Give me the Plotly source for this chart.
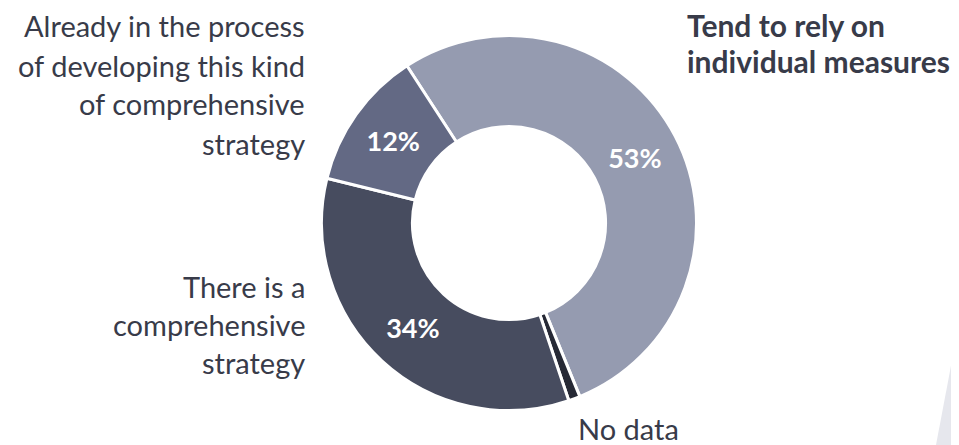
import plotly.graph_objects as go

# Data
labels = ["Tend to rely on individual measures", "No data",
          "There is a comprehensive strategy",
          "Already in the process of developing this kind of comprehensive strategy"]
values = [53, 1, 34, 12]
colors = ["#959BB0", "#262935", "#474C5F", "#636984"]
slice_text = ["53%", "", "34%", "12%"]

# page offset (browser default body margin) and figure size
OFF = 8
W, H = 959 - OFF, 445 - OFF
FONT = "Lato"
TXT = "#383B49"


def px(sx):
    return (sx - OFF) / W


def py(sy):
    return 1 - (sy - OFF) / H


fig = go.Figure()
fig.add_trace(go.Pie(
    labels=labels, values=values, sort=False, direction="clockwise",
    rotation=-33, hole=0.515,
    marker=dict(colors=colors, line=dict(color="white", width=3)),
    text=slice_text, textinfo="text", textposition="inside",
    insidetextorientation="horizontal",
    textfont=dict(family=FONT, size=27, color="white", weight="bold"),
    domain=dict(x=[px(321.5), px(696.5)], y=[py(410.5), py(35.5)]),
    showlegend=False, hoverinfo="label+percent",
))


def add_lines(lines, sx, sys, anchor, bold=False, size=29):
    for line, sy in zip(lines, sys):
        fig.add_annotation(
            text=f"<b>{line}</b>" if bold else line,
            x=px(sx), y=py(sy), xref="paper", yref="paper",
            xanchor=anchor, yanchor="middle", showarrow=False,
            font=dict(family=FONT, size=size, color=TXT),
        )


add_lines(["Already in the process", "of developing this kind",
           "of comprehensive", "strategy"], 307, [26, 65, 104, 143], "right")
add_lines(["There is a", "comprehensive", "strategy"], 307, [286, 324, 362], "right")
add_lines(["Tend to rely on", "individual measures"], 685, [25, 61], "left", bold=True, size=30)
add_lines(["No data"], 576, [428], "left")

# faint decorative wedge at bottom right
fig.add_shape(type="path", xref="paper", yref="paper",
              path=f"M {px(960)} {py(318)} L {px(936)} {py(445)} L {px(960)} {py(445)} Z",
              fillcolor="#E6E7ED", line=dict(width=0), layer="below")

fig.update_layout(width=W, height=H, margin=dict(l=0, r=0, t=0, b=0),
                  paper_bgcolor="white", plot_bgcolor="white")
fig.write_html("out.html")
